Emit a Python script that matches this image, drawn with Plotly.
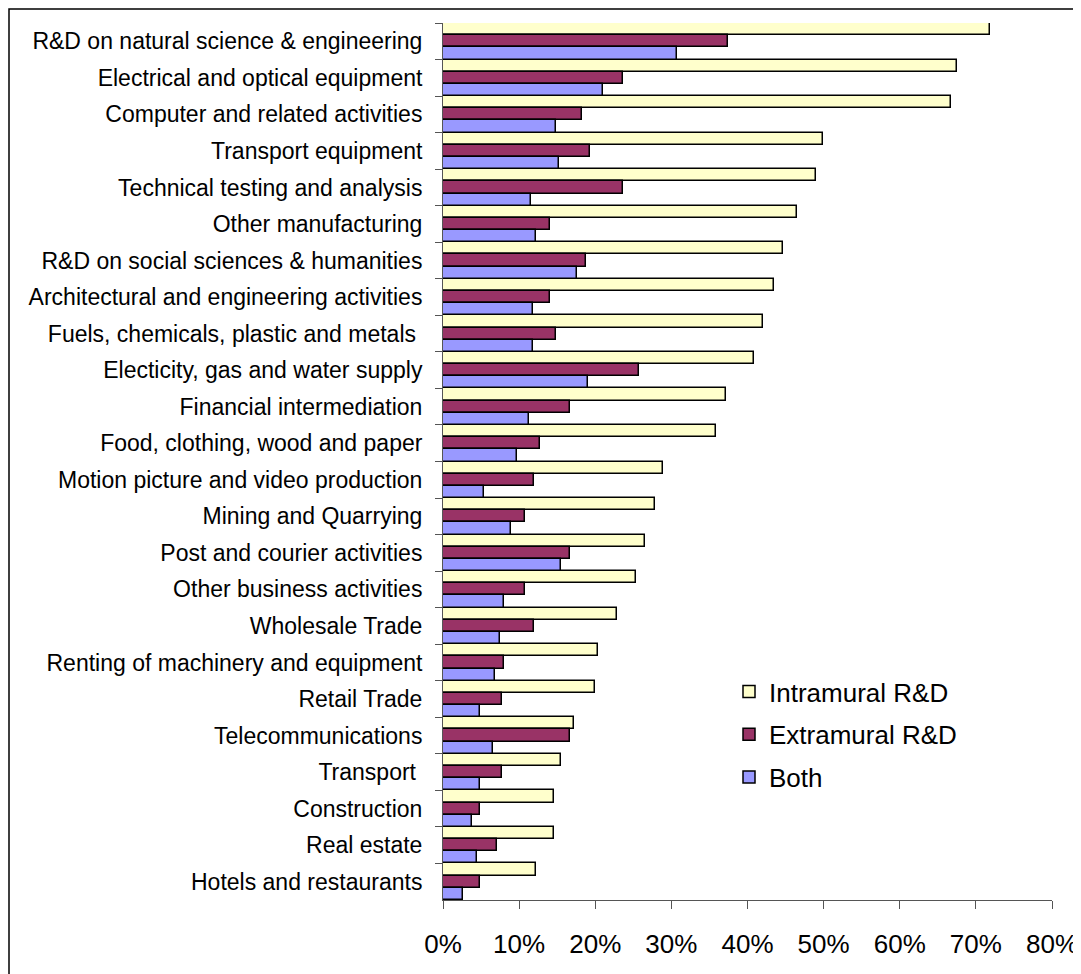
import plotly.graph_objects as go

categories = [
    "R&D on natural science & engineering",
    "Electrical and optical equipment",
    "Computer and related activities",
    "Transport equipment",
    "Technical testing and analysis",
    "Other manufacturing",
    "R&D on social sciences & humanities",
    "Architectural and engineering activities",
    "Fuels, chemicals, plastic and metals ",
    "Electicity, gas and water supply",
    "Financial intermediation",
    "Food, clothing, wood and paper",
    "Motion picture and video production",
    "Mining and Quarrying",
    "Post and courier activities",
    "Other business activities",
    "Wholesale Trade",
    "Renting of machinery and equipment",
    "Retail Trade",
    "Telecommunications",
    "Transport ",
    "Construction",
    "Real estate",
    "Hotels and restaurants",
]

intramural = [71.8, 67.5, 66.7, 49.9, 49.0, 46.5, 44.7, 43.5, 42.1, 40.9, 37.2, 35.8,
              28.9, 27.8, 26.6, 25.4, 22.8, 20.4, 20.0, 17.2, 15.5, 14.6, 14.6, 12.2]
extramural = [37.4, 23.6, 18.3, 19.3, 23.6, 14.1, 18.8, 14.1, 14.8, 25.7, 16.7, 12.7,
              12.0, 10.8, 16.7, 10.8, 12.0, 8.0, 7.8, 16.7, 7.8, 4.9, 7.1, 4.9]
both = [30.8, 21.0, 14.8, 15.3, 11.5, 12.2, 17.6, 11.8, 11.8, 19.1, 11.3, 9.7,
        5.4, 8.9, 15.5, 8.0, 7.5, 6.8, 4.9, 6.6, 4.9, 3.8, 4.5, 2.6]

series = [
    ("Intramural R&D", intramural, "#FFFFCC"),
    ("Extramural R&D", extramural, "#993366"),
    ("Both", both, "#9999FF"),
]

fig = go.Figure()
for i, (name, vals, color) in enumerate(series):
    fig.add_trace(go.Bar(
        y=categories,
        x=[v / 100 for v in vals],
        name=name,
        orientation="h",
        legendgroup=f"g{i}",
        marker=dict(color=color, line=dict(color="black", width=1.5)),
    ))

# page body has an 8px margin, so the figure is laid out 8px smaller/offset
W, H = 1073, 966
L, R, T, B = 435, 29, 15, 74
pw, ph = W - L - R, H - T - B

def px_x(p):
    return (p - L) / pw

def px_y(p):
    return (H - B - p) / ph

fig.update_layout(
    width=W, height=H,
    margin=dict(l=L, r=R, t=T, b=B, autoexpand=False),
    paper_bgcolor="white",
    plot_bgcolor="white",
    barmode="group",
    bargap=0,
    bargroupgap=0,
    font=dict(family="Liberation Sans, Arial, sans-serif", color="black"),
    showlegend=True,
    legend=dict(
        x=px_x(721), y=px_y(660), xanchor="left", yanchor="top",
        font=dict(size=26, color="black"),
        bgcolor="rgba(0,0,0,0)",
        tracegroupgap=6,
        itemwidth=30,
        traceorder="grouped",
    ),
    xaxis=dict(
        range=[0, 0.8],
        dtick=0.1,
        tick0=0,
        tickformat=".0%",
        showgrid=False,
        zeroline=False,
        showline=True,
        linecolor="#555555",
        linewidth=1,
        ticks="outside",
        ticklen=8,
        tickcolor="#555555",
        tickfont=dict(size=26, color="black"),
        ticklabelstandoff=13,
        automargin=False,
    ),
    yaxis=dict(
        type="category",
        autorange="reversed",
        showgrid=False,
        showline=True,
        linecolor="#555555",
        linewidth=1,
        ticks="outside",
        ticklen=7,
        tickcolor="#555555",
        tickson="boundaries",
        tickfont=dict(size=23, color="black"),
        ticklabelstandoff=15,
        automargin=False,
    ),
    shapes=[
        dict(type="rect", xref="paper", yref="paper",
             x0=px_x(1), x1=px_x(1090), y0=px_y(990), y1=px_y(1),
             line=dict(color="black", width=1.5), fillcolor="rgba(0,0,0,0)",
             layer="below"),
    ],
)

fig.write_html("out.html")
